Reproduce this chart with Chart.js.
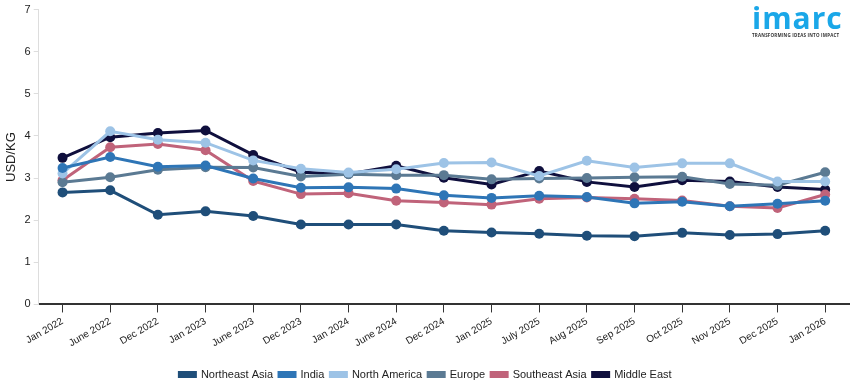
<!DOCTYPE html>
<html>
<head>
<meta charset="utf-8">
<script src="https://cdn.jsdelivr.net/npm/chart.js@4/dist/chart.umd.min.js"></script>
<style>
  body { margin: 0; background: #fff; }
  #wrap { position: relative; width: 855px; height: 390px; }
  #logo { position: absolute; left: 752px; top: 2px; font-family: "Open Sans", sans-serif; color: #1aa7e8; }
  #logo .big { font-size: 30px; font-weight: 700; letter-spacing: 1px; line-height: 32px; }
  #logo .small { font-size: 4.5px; font-weight: 700; color: #333; letter-spacing: 0.2px; margin-top: -2px; }
</style>
</head>
<body>
<div id="wrap">
  <canvas id="myChart" width="855" height="390"></canvas>
  <div id="logo"><div class="big">imarc</div><div class="small">TRANSFORMING IDEAS INTO IMPACT</div></div>
</div>
<script>
var labels = ['Jan 2022', 'June 2022', 'Dec 2022', 'Jan 2023', 'June 2023', 'Dec 2023', 'Jan 2024', 'June 2024',
    'Dec 2024', 'Jan 2025', 'July 2025', 'Aug 2025', 'Sep 2025', 'Oct 2025', 'Nov 2025', 'Dec 2025', 'Jan 2026'];

var northeastAsia = [2.66, 2.71, 2.13, 2.21, 2.10, 1.90, 1.90, 1.90, 1.75, 1.71, 1.68, 1.63, 1.62, 1.70, 1.65, 1.67, 1.75];
var india         = [3.24, 3.50, 3.27, 3.30, 2.99, 2.77, 2.78, 2.75, 2.59, 2.53, 2.58, 2.55, 2.40, 2.44, 2.33, 2.39, 2.46];
var northAmerica  = [3.11, 4.11, 3.91, 3.84, 3.42, 3.22, 3.13, 3.21, 3.36, 3.37, 3.05, 3.41, 3.25, 3.35, 3.35, 2.92, 2.92];
var europe        = [2.90, 3.02, 3.20, 3.26, 3.25, 3.04, 3.09, 3.07, 3.07, 2.97, 2.99, 3.00, 3.02, 3.03, 2.86, 2.83, 3.14];
var southeastAsia = [2.95, 3.73, 3.81, 3.66, 2.93, 2.62, 2.64, 2.46, 2.42, 2.37, 2.51, 2.54, 2.51, 2.47, 2.33, 2.29, 2.61];
var middleEast    = [3.48, 3.97, 4.07, 4.13, 3.55, 3.14, 3.10, 3.29, 3.01, 2.85, 3.17, 2.91, 2.79, 2.95, 2.92, 2.79, 2.73];

function series(label, data, color) {
    return {
        label: label,
        data: data,
        borderColor: color,
        backgroundColor: color,
        borderWidth: 3,
        pointRadius: 5,
        pointHoverRadius: 5,
        pointBorderWidth: 0,
        tension: 0
    };
}

var ctx = document.getElementById('myChart').getContext('2d');
var chart = new Chart(ctx, {
    type: 'line',
    data: {
        labels: labels,
        datasets: [
            series('Northeast Asia', northeastAsia, '#1f4e79'),
            series('India', india, '#2e75b6'),
            series('North America', northAmerica, '#9dc3e6'),
            series('Europe', europe, '#5b7a93'),
            series('Southeast Asia', southeastAsia, '#c0637a'),
            series('Middle East', middleEast, '#0f0f3d')
        ]
    },
    options: {
        responsive: false,
        animation: false,
        layout: { padding: { top: 2, right: 6, left: 2, bottom: 0 } },
        plugins: {
            legend: {
                position: 'bottom',
                // empty title only adds a gap above the legend row
                title: { display: true, text: '', font: { size: 4 }, padding: { top: 3, bottom: 3 } },
                labels: {
                    boxWidth: 16,
                    boxHeight: 4,
                    padding: 6,
                    color: '#222',
                    font: { family: 'Liberation Sans, Arial', size: 11 }
                }
            },
            tooltip: { enabled: false }
        },
        scales: {
            x: {
                offset: true,
                grid: { display: true, drawOnChartArea: false, offset: false, tickLength: 8, color: '#333' },
                border: { color: '#333', width: 2 },
                ticks: {
                    maxRotation: 30,
                    minRotation: 30,
                    color: '#222',
                    font: { family: 'Liberation Sans, Arial', size: 10 }
                }
            },
            y: {
                min: 0,
                max: 7,
                ticks: {
                    stepSize: 1,
                    color: '#222',
                    font: { family: 'Liberation Sans, Arial', size: 11 }
                },
                grid: { drawOnChartArea: false, tickLength: 5, color: '#ddd' },
                border: { color: '#ddd', width: 1 },
                title: {
                    display: true,
                    text: 'USD/KG',
                    color: '#222',
                    padding: 2,
                    font: { family: 'Liberation Sans, Arial', size: 13 }
                }
            }
        }
    }
});
</script>
</body>
</html>
